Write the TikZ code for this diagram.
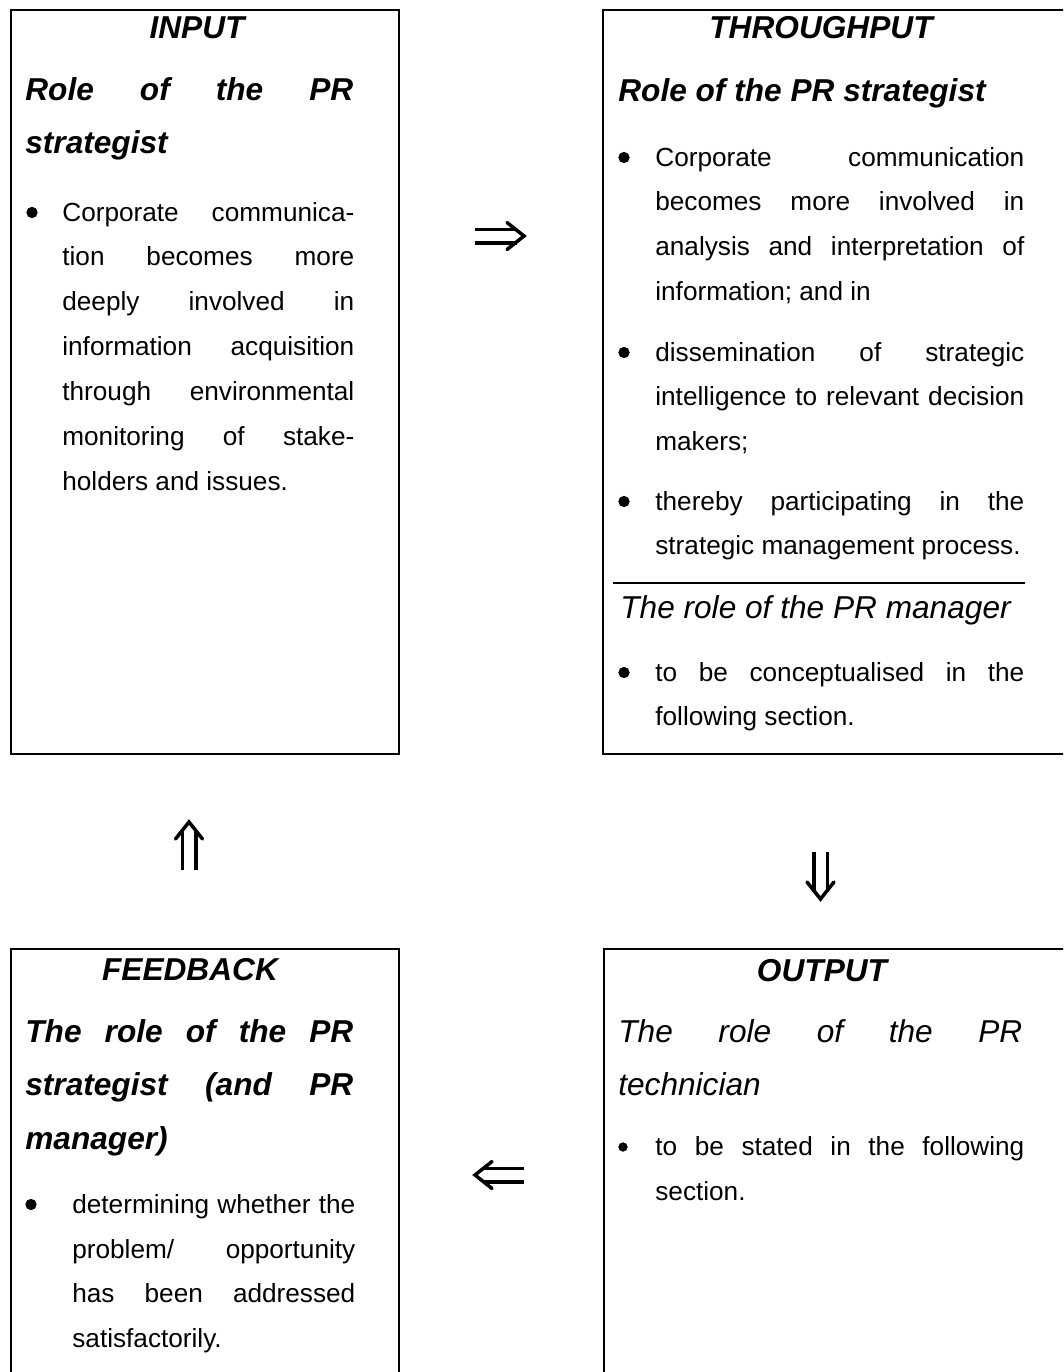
\documentclass[tikz,border=0pt]{standalone}
\usepackage{fontspec}
\setmainfont{Liberation Sans}
\usetikzlibrary{arrows.meta,positioning,calc}
\tikzset{
  panel/.style={draw, line width=1.1pt, inner sep=0pt, anchor=north west},
  title/.style={font=\fontsize{18}{22}\selectfont\bfseries\itshape, anchor=base, inner sep=0pt},
  head/.style={font=\fontsize{18}{30.7}\selectfont\bfseries\itshape, anchor=base west,
               inner sep=0pt, align=justify, text width=#1},
  subhead/.style={font=\fontsize{18}{30.7}\selectfont\itshape, anchor=base west,
               inner sep=0pt, align=justify, text width=#1},
  body/.style={font=\fontsize{14.9}{25.6}\selectfont, anchor=base west, inner sep=0pt,
               align=justify, text width=#1},
  body/.default=7.38cm,
  dot/.style={circle, draw, fill=black, line width=0.4pt, inner sep=0pt, minimum size=#1},
  dot/.default=0.21cm,
  dbl/.style={double, double distance=0.2cm, line width=0.07cm, shorten >=0.15cm},
  chev/.style={line width=0.07cm, line cap=round, line join=miter},
}
\begin{document}
\begin{tikzpicture}
  \clip (0,0) rectangle (21.26,-27.44);
  % the four boxes
  \node[panel, minimum width=7.76cm, minimum height=14.88cm] (input) at (0.2,-0.18) {};
  \node[panel, minimum width=9.4cm, minimum height=14.88cm] (thru) at (12.04,-0.18) {};
  \node[panel, minimum width=7.76cm, minimum height=9cm] (feed) at (0.2,-18.96) {};
  \node[panel, minimum width=9.4cm, minimum height=9cm] (output) at (12.06,-18.96) {};

  % input
  \node[title] (inT) at (3.94,-0.76) {INPUT};
  \node[head=6.56cm] (inH) at (0.5,-2.0) {Role of the PR\linebreak strategist};
  \node[dot] (inD) at (0.64,-4.25) {};
  \node[body=5.84cm] (inB) at (1.24,-4.42) {Corporate communica-\linebreak tion becomes more\linebreak
    deeply involved in\linebreak information acquisition\linebreak through environmental\linebreak
    monitoring of stake-\linebreak holders and issues.};

  % throughput
  \node[title] (tpT) at (16.42,-0.76) {THROUGHPUT};
  \node[head=8.08cm] (tpH) at (12.36,-2.02) {Role of the PR strategist};
  \node[dot] (tpD1) at (12.48,-3.15) {};
  \node[body] (tpB1) at (13.1,-3.32) {Corporate communication\linebreak becomes more involved in\linebreak
    analysis and interpretation of\linebreak information; and in};
  \node[dot] (tpD2) at (12.48,-7.05) {};
  \node[body] (tpB2) at (13.1,-7.22) {dissemination of strategic\linebreak
    intelligence to relevant decision\linebreak makers;};
  \node[dot] (tpD3) at (12.48,-10.03) {};
  \node[body] (tpB3) at (13.1,-10.2) {thereby participating in the\linebreak strategic management process.};
  \draw[line width=0.9pt] (12.26,-11.66) -- (20.5,-11.66);
  \node[subhead=8.08cm] (tpS) at (12.4,-12.36) {The role of the PR manager};
  \node[dot] (tpD4) at (12.48,-13.45) {};
  \node[body] (tpB4) at (13.1,-13.62) {to be conceptualised in the\linebreak following section.};

  % feedback
  \node[title] (fbT) at (3.8,-19.6) {FEEDBACK};
  \node[head=6.56cm] (fbH) at (0.5,-20.84) {The role of the PR\linebreak strategist (and PR\linebreak manager)};
  \node[dot] (fbD) at (0.62,-24.09) {};
  \node[body=5.66cm] (fbB) at (1.44,-24.26) {determining whether the\linebreak problem/ opportunity\linebreak
    has been addressed\linebreak satisfactorily.};

  % output
  \node[title] (otT) at (16.44,-19.62) {OUTPUT};
  \node[subhead=8.08cm] (otH) at (12.36,-20.84) {The role of the PR\linebreak technician};
  \node[dot=0.17cm] (otD) at (12.46,-22.94) {};
  \node[body] (otB) at (13.1,-23.1) {to be stated in the following\linebreak section.};

  % cycle arrows
  \coordinate (fwdA) at (9.5,-4.72);
  \coordinate (fwdB) at (10.48,-4.72);
  \coordinate (dnA) at (16.41,-17.04);
  \coordinate (dnB) at (16.41,-17.98);
  \coordinate (bkA) at (10.48,-23.5);
  \coordinate (bkB) at (9.5,-23.5);
  \coordinate (upA) at (3.78,-17.4);
  \coordinate (upB) at (3.78,-16.44);
  \draw[dbl] (fwdA) -- (fwdB);
  \draw[chev] ($(fwdB)+(-0.34,0.27)$) -- (fwdB) -- ($(fwdB)+(-0.34,-0.27)$);
  \draw[dbl] (dnA) -- (dnB);
  \draw[chev] ($(dnB)+(-0.27,0.34)$) -- (dnB) -- ($(dnB)+(0.27,0.34)$);
  \draw[dbl] (bkA) -- (bkB);
  \draw[chev] ($(bkB)+(0.34,0.27)$) -- (bkB) -- ($(bkB)+(0.34,-0.27)$);
  \draw[dbl] (upA) -- (upB);
  \draw[chev] ($(upB)+(-0.27,-0.34)$) -- (upB) -- ($(upB)+(0.27,-0.34)$);
\end{tikzpicture}
\end{document}
